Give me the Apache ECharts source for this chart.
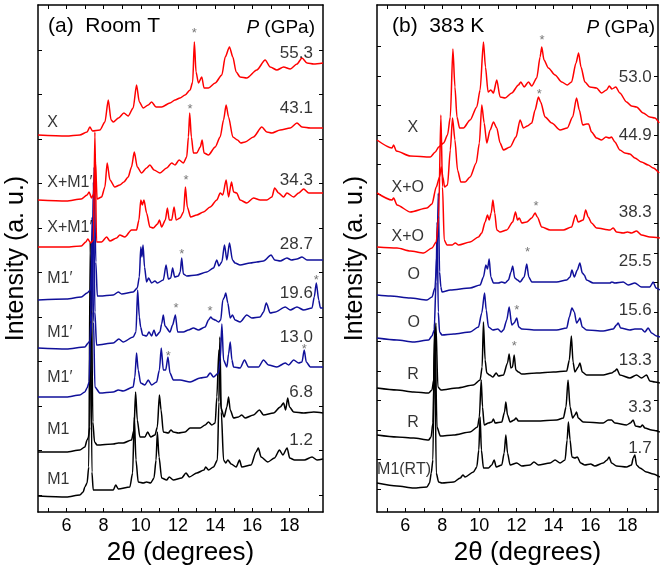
<!DOCTYPE html>
<html><head><meta charset="utf-8">
<script src="https://cdn.jsdelivr.net/npm/echarts@6/dist/echarts.min.js"></script>
<style>html,body{margin:0;padding:0;background:#fff}#c{width:660px;height:571px}</style>
</head><body><div id="c"></div>
<script>
// ---------- tick values ----------
const xTickValues = [5,6,7,8,9,10,11,12,13,14,15,16,17,18,19];
const xLabelValues = [6,8,10,12,14,16,18];
const leftYTicks = [17,61.5,106,150.5,195,239.5,284,328.5,373,417.5,462];
const rightYTicks = [23,52.5,82,111.5,141,170.5,200,229.5,259,288.5,318,347.5,377,406.5,436,465.5];

// ---------- (a) Room T : [2theta, intensity a.u.] ----------
const roomT_55_3 = [[4.47,377],[6.0,376],[6.72,377],[7.11,380],[7.26,385],[7.4,381],[7.8,382],[8.07,390],[8.25,412],[8.4,392],[8.52,390],[8.8,394],[9.09,399],[9.32,396],[9.59,404],[9.77,427],[9.92,410],[10.13,404],[10.4,407],[10.58,410],[10.82,405],[11.12,405],[11.57,409],[11.84,412],[12.11,414],[12.38,417],[12.65,422],[12.79,430],[12.88,470],[12.97,440],[13.1,429],[13.28,435],[13.4,424],[13.64,424],[14.0,429],[14.36,437],[14.54,455],[14.77,465],[14.95,455],[15.13,440],[15.34,435],[15.7,434],[16.24,442],[16.69,452],[16.96,445],[17.32,442],[17.68,445],[18.04,443],[18.4,448],[18.67,454],[18.94,449],[19.3,448],[19.8,449]];
const roomT_43_1 = [[4.47,312],[6.0,311],[6.8,313],[7.11,317],[7.22,320],[7.35,314],[7.47,318],[7.56,350],[7.65,313],[7.89,315],[8.07,325],[8.19,349],[8.34,332],[8.6,325],[8.87,327],[9.09,330],[9.32,335],[9.5,345],[9.65,360],[9.81,345],[10.04,339],[10.31,344],[10.49,347],[10.71,342],[11.03,339],[11.39,344],[11.66,349],[11.84,347],[12.06,352],[12.29,349],[12.47,355],[12.56,375],[12.63,399],[12.72,375],[12.83,359],[13.01,359],[13.2,365],[13.3,372],[13.4,359],[13.64,357],[14.0,365],[14.27,375],[14.45,392],[14.59,407],[14.72,395],[14.95,375],[15.2,372],[15.38,369],[15.61,370],[16.06,375],[16.51,385],[16.78,380],[17.05,379],[17.5,382],[18.04,384],[18.4,389],[18.67,385],[19.12,384],[19.8,384]];
const roomT_34_3 = [[4.47,265],[6.0,265],[6.8,266],[7.04,270],[7.15,273],[7.3,269],[7.45,272],[7.53,380],[7.62,270],[7.89,270],[8.16,275],[8.34,271],[8.7,274],[8.87,277],[9.14,275],[9.5,282],[9.77,282],[9.9,292],[10.0,312],[10.08,307],[10.17,312],[10.31,299],[10.49,285],[10.67,284],[10.9,288],[11.0,292],[11.12,285],[11.32,292],[11.43,304],[11.53,292],[11.66,292],[11.79,305],[11.9,292],[12.11,294],[12.3,300],[12.4,325],[12.5,305],[12.68,295],[13.01,297],[13.37,300],[13.73,305],[14.09,312],[14.27,319],[14.41,317],[14.59,332],[14.72,315],[14.88,330],[14.99,320],[15.16,319],[15.34,312],[15.7,309],[16.06,314],[16.42,312],[16.78,312],[17.05,315],[17.2,324],[17.41,319],[17.68,315],[17.86,319],[18.22,315],[18.49,319],[18.76,323],[19.03,319],[19.8,319]];
const roomT_28_7 = [[4.47,212],[6.0,213],[6.8,215],[7.11,219],[7.29,222],[7.4,250],[7.49,345],[7.58,250],[7.66,216],[7.8,216],[8.52,217],[8.79,220],[8.97,218],[9.59,220],[9.81,224],[9.92,235],[10.0,265],[10.06,255],[10.12,267],[10.2,245],[10.31,230],[10.42,234],[10.58,229],[10.76,231],[10.89,229],[11.21,232],[11.36,247],[11.48,233],[11.61,234],[11.71,244],[11.82,235],[12.02,236],[12.12,240],[12.2,254],[12.29,238],[12.47,236],[13.0,237],[13.55,240],[13.91,244],[14.09,252],[14.2,246],[14.36,250],[14.5,267],[14.63,252],[14.77,269],[14.93,252],[15.07,249],[15.34,247],[15.88,249],[16.24,250],[16.6,251],[17.01,257],[17.2,252],[17.5,251],[17.86,254],[18.1,252],[18.4,253],[18.67,255],[18.94,252],[19.3,252],[19.8,252]];
const roomT_19_6 = [[4.47,164],[6.0,163],[6.99,165],[7.17,169],[7.29,172],[7.38,200],[7.45,330],[7.53,200],[7.62,167],[8.52,169],[8.82,173],[9.05,170],[9.59,175],[9.74,180],[9.83,222],[9.92,195],[9.99,185],[10.1,177],[10.31,176],[10.44,180],[10.58,176],[10.71,182],[10.82,176],[11.03,180],[11.12,188],[11.21,197],[11.3,186],[11.57,180],[11.71,187],[11.86,197],[11.98,180],[12.29,180],[12.56,182],[12.83,184],[13.1,182],[13.46,185],[13.64,192],[13.76,195],[13.87,193],[14.0,192],[14.18,190],[14.3,192],[14.41,212],[14.48,214],[14.57,219],[14.68,209],[14.81,194],[14.93,197],[15.07,192],[15.34,190],[15.7,197],[15.97,194],[16.42,195],[16.6,200],[16.75,209],[16.96,199],[17.23,200],[17.77,205],[18.04,202],[18.4,205],[18.76,202],[19.21,204],[19.33,215],[19.44,229],[19.57,212],[19.66,204],[19.8,204]];
const roomT_13_0 = [[4.47,115],[6.0,115],[6.72,117],[6.99,120],[7.11,124],[7.22,130],[7.3,190],[7.38,295],[7.46,190],[7.53,125],[7.8,119],[8.52,120],[8.79,122],[9.05,121],[9.59,125],[9.68,135],[9.77,159],[9.86,142],[9.99,129],[10.22,127],[10.4,132],[10.58,127],[10.85,130],[11.0,142],[11.1,164],[11.21,142],[11.34,142],[11.46,155],[11.57,139],[11.75,132],[12.11,132],[12.65,130],[13.19,134],[13.55,135],[13.73,139],[13.91,135],[14.18,139],[14.27,152],[14.36,188],[14.45,152],[14.63,145],[14.72,158],[14.81,170],[14.9,152],[14.99,145],[15.34,144],[15.58,152],[15.79,145],[16.33,145],[16.6,152],[16.87,147],[17.32,145],[17.77,149],[17.95,147],[18.22,152],[18.49,149],[18.67,150],[18.79,162],[18.9,150],[19.12,145],[19.8,145]];
const roomT_6_8 = [[4.47,60],[6.0,60],[6.72,62],[6.99,65],[7.11,72],[7.17,74],[7.26,85],[7.33,250],[7.42,90],[7.51,70],[7.65,67],[8.52,68],[8.79,69],[9.05,69],[9.5,72],[9.63,82],[9.72,120],[9.81,92],[9.95,75],[10.22,75],[10.37,80],[10.53,75],[10.76,77],[10.89,85],[11.0,117],[11.09,102],[11.21,80],[11.48,79],[11.62,82],[11.75,80],[12.02,79],[12.38,80],[12.65,84],[13.19,84],[13.46,87],[13.64,90],[13.82,87],[14.0,89],[14.09,115],[14.2,162],[14.3,105],[14.48,95],[14.63,105],[14.72,115],[14.81,102],[14.99,94],[15.25,95],[15.43,97],[15.61,94],[16.06,97],[16.38,102],[16.6,97],[17.14,99],[17.5,105],[17.68,109],[17.79,102],[17.9,114],[18.0,105],[18.22,100],[18.76,99],[19.3,100],[19.8,99]];
const roomT_1_2 = [[4.47,16],[6.0,15],[6.72,17],[6.9,20],[6.99,25],[7.11,29],[7.2,45],[7.28,270],[7.37,40],[7.44,22],[7.62,22],[8.52,22],[8.65,27],[8.79,23],[9.41,25],[9.56,39],[9.65,95],[9.74,52],[9.86,30],[10.13,29],[10.31,30],[10.53,29],[10.71,34],[10.82,52],[10.89,80],[10.98,55],[11.12,34],[11.39,32],[11.53,35],[11.75,32],[12.2,34],[12.43,39],[12.61,35],[13.01,39],[13.4,42],[13.49,45],[13.64,42],[13.91,45],[14.12,52],[14.2,110],[14.25,175],[14.33,100],[14.45,52],[14.57,49],[14.68,52],[14.86,48],[15.13,45],[15.31,52],[15.43,45],[15.93,47],[16.2,60],[16.32,64],[16.47,55],[16.83,50],[17.19,54],[17.46,62],[17.64,57],[17.87,64],[18.01,54],[18.27,52],[18.8,52],[19.21,55],[19.48,52],[19.8,53]];

// ---------- (b) 383 K ----------
const k383_53_0 = [[4.47,372],[5.28,364],[5.37,367],[5.51,361],[6.27,356],[7.35,355],[7.62,360],[7.8,365],[8.07,369],[8.28,377],[8.43,395],[8.57,463],[8.68,425],[8.79,395],[8.93,384],[9.14,384],[9.5,392],[9.86,405],[10.04,422],[10.22,470],[10.33,445],[10.47,420],[10.62,422],[10.76,419],[10.94,432],[11.12,415],[11.39,414],[11.75,419],[12.11,427],[12.24,430],[12.42,425],[12.65,430],[12.83,426],[13.1,434],[13.28,455],[13.37,465],[13.49,452],[13.73,444],[14.09,437],[14.45,430],[14.75,427],[14.98,430],[15.22,449],[15.36,459],[15.49,445],[15.7,430],[15.97,425],[16.33,424],[16.6,419],[16.87,422],[17.02,426],[17.16,423],[17.37,425],[17.59,419],[17.95,410],[18.22,406],[18.49,405],[18.85,399],[19.21,395],[19.48,394],[19.71,389]];
const k383_44_9 = [[4.47,319],[5.28,312],[5.37,314],[5.55,307],[6.27,300],[7.17,304],[7.44,308],[7.67,325],[7.85,335],[7.94,345],[8.03,335],[8.12,325],[8.28,327],[8.43,362],[8.55,394],[8.68,372],[8.82,342],[9.0,330],[9.23,330],[9.5,335],[9.83,349],[10.0,369],[10.13,407],[10.26,389],[10.4,369],[10.58,382],[10.76,390],[10.94,384],[11.12,369],[11.3,362],[11.66,365],[11.98,375],[12.2,392],[12.38,384],[12.59,386],[12.83,389],[13.01,402],[13.19,415],[13.31,410],[13.55,395],[13.91,389],[14.36,382],[14.75,384],[15.04,395],[15.25,414],[15.4,402],[15.58,387],[15.79,388],[15.9,388],[16.06,380],[16.33,374],[16.6,372],[16.84,375],[17.02,374],[17.14,375],[17.32,370],[17.59,362],[17.86,359],[18.13,358],[18.4,354],[18.76,350],[19.12,347],[19.39,344],[19.71,339]];
const k383_38_3 = [[4.47,265],[5.55,264],[6.27,261],[6.99,259],[7.44,264],[7.67,270],[7.8,295],[7.92,397],[8.01,325],[8.1,272],[8.25,267],[8.52,267],[8.7,269],[8.88,267],[9.5,270],[9.95,275],[10.13,279],[10.31,290],[10.44,297],[10.53,292],[10.64,299],[10.73,312],[10.83,299],[10.94,282],[11.12,280],[11.48,282],[11.8,290],[11.95,300],[12.06,292],[12.16,294],[12.29,289],[12.56,290],[12.83,294],[13.01,299],[13.13,295],[13.37,285],[13.82,282],[14.54,282],[14.98,285],[15.2,297],[15.34,290],[15.61,292],[15.74,302],[15.88,295],[16.06,289],[16.33,284],[17.05,282],[17.23,284],[17.41,280],[17.77,279],[18.0,280],[18.22,279],[18.49,281],[18.76,277],[19.21,275],[19.75,274]];
const k383_25_5 = [[4.47,217],[5.19,216],[6.27,214],[7.17,212],[7.44,215],[7.6,224],[7.72,260],[7.78,319],[7.85,240],[7.92,225],[7.98,220],[8.43,222],[9.5,224],[10.04,227],[10.22,235],[10.35,247],[10.44,243],[10.53,253],[10.62,235],[10.76,229],[11.03,229],[11.21,230],[11.39,229],[11.57,232],[11.71,240],[11.8,246],[11.91,234],[12.06,232],[12.2,230],[12.42,235],[12.56,248],[12.67,235],[12.83,230],[13.46,230],[14.18,230],[14.72,232],[14.9,235],[15.0,242],[15.13,235],[15.29,242],[15.43,249],[15.56,239],[15.67,237],[15.79,232],[16.15,229],[16.69,229],[17.05,229],[17.16,230],[17.32,229],[17.77,230],[18.04,227],[18.4,229],[18.76,225],[19.21,225],[19.39,230],[19.54,224],[19.75,222]];
const k383_15_6 = [[4.47,174],[5.55,172],[6.45,170],[7.26,172],[7.44,176],[7.56,182],[7.66,230],[7.72,290],[7.78,200],[7.85,180],[7.98,177],[8.61,178],[9.5,180],[9.95,185],[10.13,199],[10.28,219],[10.37,202],[10.49,185],[10.73,182],[11.0,183],[11.18,180],[11.3,182],[11.48,192],[11.61,205],[11.75,187],[11.88,189],[12.02,194],[12.13,185],[12.29,183],[13.1,182],[14.18,182],[14.72,184],[14.86,195],[15.0,204],[15.13,200],[15.25,189],[15.34,191],[15.43,194],[15.56,185],[15.79,182],[16.69,181],[17.23,183],[17.41,187],[17.5,189],[17.63,184],[18.13,182],[18.4,183],[18.76,183],[18.94,180],[19.12,184],[19.3,179],[19.57,176],[19.75,175]];
const k383_13_3 = [[4.47,124],[5.55,122],[6.45,120],[7.26,119],[7.44,122],[7.53,132],[7.65,189],[7.76,125],[7.92,122],[8.79,124],[9.68,127],[10.04,132],[10.15,145],[10.22,190],[10.31,152],[10.4,139],[10.55,137],[10.73,135],[10.91,139],[11.03,136],[11.3,137],[11.52,149],[11.61,158],[11.7,144],[11.79,145],[11.88,157],[11.97,142],[12.11,140],[12.29,138],[13.1,139],[14.0,140],[14.72,141],[14.86,152],[14.97,176],[15.06,150],[15.16,140],[15.34,145],[15.43,149],[15.56,140],[15.79,137],[16.69,137],[17.14,139],[17.32,141],[17.43,143],[17.59,137],[18.13,134],[18.49,137],[18.76,134],[19.03,137],[19.21,131],[19.48,130],[19.75,129]];
const k383_3_3 = [[4.47,77],[5.55,75],[6.45,74],[7.26,72],[7.39,75],[7.49,89],[7.6,185],[7.71,85],[7.89,76],[8.61,77],[9.5,80],[9.9,85],[10.0,95],[10.1,132],[10.17,105],[10.26,87],[10.49,89],[10.67,90],[10.76,93],[10.85,89],[11.21,90],[11.36,100],[11.43,110],[11.52,97],[11.66,90],[11.88,92],[11.98,94],[12.11,91],[13.1,91],[14.18,92],[14.54,94],[14.68,105],[14.79,132],[14.9,105],[15.04,94],[15.16,97],[15.25,100],[15.34,94],[15.61,90],[16.69,89],[16.96,92],[17.14,92],[17.32,89],[17.95,87],[18.16,89],[18.31,92],[18.43,86],[18.7,85],[18.81,87],[18.94,84],[19.3,82],[19.75,80]];
const k383_1_7 = [[4.47,29],[5.55,26],[6.45,24],[7.17,25],[7.31,29],[7.4,39],[7.49,52],[7.58,188],[7.67,39],[7.8,30],[7.98,29],[8.61,30],[8.97,34],[9.11,37],[9.23,35],[9.68,40],[9.86,45],[9.97,62],[10.04,95],[10.11,62],[10.22,44],[10.49,44],[10.67,47],[10.8,52],[10.91,45],[11.21,47],[11.34,59],[11.43,77],[11.52,59],[11.66,47],[12.02,49],[12.29,46],[12.74,47],[12.95,50],[13.19,47],[13.82,49],[14.09,52],[14.36,49],[14.63,52],[14.74,72],[14.81,90],[14.9,72],[15.0,55],[15.16,54],[15.29,55],[15.47,49],[15.7,47],[16.01,48],[16.24,46],[16.69,49],[16.9,52],[17.01,55],[17.14,49],[17.41,46],[17.95,45],[18.22,47],[18.31,54],[18.4,57],[18.49,47],[18.67,44],[19.03,40],[19.39,38],[19.75,35]];

// ---------- annotation texts ----------
const leftPressures = ['55.3','43.1','34.3','28.7','19.6','13.0','6.8','1.2'];
const leftPhases = ['X','X+M1′','X+M1′','M1′','M1′','M1′','M1','M1'];
const rightPressures = ['53.0','44.9','38.3','25.5','15.6','13.3','3.3','1.7'];
const rightPhases = ['X','X+O','X+O','O','O','R','R','M1(RT)'];

// ---------- annotation placement (data coords) ----------
const leftPressureY = [459,404,332,268,219,175,120,72];
const leftPhaseY = [389,329,284,233,179,134,82,32];
const rightPressureY = [435,377,300,251,202,152,105,64];
const rightPhaseY = [384,324,275,237,189,137,89,42];
const rightPhaseX = [6.4,6.13,6.13,6.45,6.45,6.41,6.41,5.93];
const leftStars = [[12.88,479],[12.65,403],[12.43,332],[12.2,258],[11.89,204],[13.73,201],[19.44,232],[11.48,156],[18.79,163]];
const rightStars = [[13.39,472],[13.24,418],[13.06,306],[12.6,260],[12.02,202],[11.88,166]];

const FONT = '"Liberation Sans", Arial, sans-serif';
const RED = '#ff0000', BLUE = '#10109a', BLACK = '#000000';

function lineSeries(data, color, gi) {
  return { type: 'line', xAxisIndex: gi*2, yAxisIndex: gi*2, data: data, showSymbol: false, symbol: 'none',
    smooth: 0.25, smoothMonotone: 'x',
    lineStyle: { color: color, width: 1.5 }, itemStyle: { color: color }, silent: true, animation: false, z: 3 };
}
function textSeries(points, opts, gi) {
  return { type: 'scatter', xAxisIndex: gi*2, yAxisIndex: gi*2, data: points, symbolSize: 1,
    itemStyle: { color: 'rgba(0,0,0,0)' }, silent: true, animation: false, z: 5,
    label: Object.assign({ show: true, formatter: p => p.data[2], color: '#000', fontWeight: 'normal', fontFamily: FONT }, opts) };
}

const leftPressPts = leftPressures.map((t,i)=>[19.28, leftPressureY[i], t]);
const leftPhasePts = leftPhases.map((t,i)=>[4.94, leftPhaseY[i], t]);
const rightPressPts = rightPressures.map((t,i)=>[19.34, rightPressureY[i], t]);
const rightPhasePts = rightPhases.map((t,i)=>[rightPhaseX[i], rightPhaseY[i], t]);
const leftStarPts = leftStars.map(p=>[p[0],p[1],'*']);
const rightStarPts = rightStars.map(p=>[p[0],p[1],'*']);

function xAxes(gi, max, nameShift) {
  const common = { type: 'value', gridIndex: gi, min: 4.47, max: max, splitLine: { show: false },
    axisLine: { show: true, onZero: false, lineStyle: { color: '#000', width: 1.5 } } };
  return [
    Object.assign({}, common, { position: 'bottom',
      axisTick: { show: true, inside: true, length: 4, customValues: xTickValues, lineStyle: { color: '#000', width: 1 } },
      axisLabel: { show: true, customValues: xLabelValues, fontSize: 18, color: '#000', fontFamily: FONT, margin: 5 },
      name: '2θ (degrees)', nameLocation: 'middle', nameGap: 27,
      nameTextStyle: { fontSize: 26, color: '#000', fontFamily: FONT, padding: [0,0,0,nameShift] } }),
    Object.assign({}, common, { position: 'top',
      axisTick: { show: true, inside: true, length: 4, customValues: xTickValues, lineStyle: { color: '#000', width: 1 } },
      axisLabel: { show: false } })
  ];
}
function yAxes(gi, ticks) {
  const common = { type: 'value', gridIndex: gi, min: 0, max: 507, splitLine: { show: false },
    axisLine: { show: true, onZero: false, lineStyle: { color: '#000', width: 1.5 } },
    axisTick: { show: true, inside: true, length: 4, customValues: ticks, lineStyle: { color: '#000', width: 1 } },
    axisLabel: { show: false } };
  return [
    Object.assign({}, common, { position: 'left', name: 'Intensity (a. u.)', nameLocation: 'middle', nameGap: 9,
      nameTextStyle: { fontSize: 25, color: '#000', fontFamily: FONT } }),
    Object.assign({}, common, { position: 'right' })
  ];
}

const titleRich = {
  i: { fontStyle: 'italic', fontWeight: 'normal', fontSize: 19, fontFamily: FONT, color: '#000' },
  n: { fontWeight: 'normal', fontSize: 19, fontFamily: FONT, color: '#000' }
};

const option = {
  backgroundColor: '#fff',
  animation: false,
  title: [
    { text: '(a)  Room T', left: 48, top: 16, padding: 0, textStyle: { fontSize: 21, fontWeight: 'normal', color: '#000', fontFamily: FONT } },
    { text: '{i|P} {n|(GPa)}', right: 345, top: 18, padding: 0, textStyle: { fontWeight: 'normal', fontSize: 19, rich: titleRich } },
    { text: '(b)  383 K', left: 392, top: 16, padding: 0, textStyle: { fontSize: 21, fontWeight: 'normal', color: '#000', fontFamily: FONT } },
    { text: '{i|P} {n|(GPa)}', right: 5, top: 18, padding: 0, textStyle: { fontWeight: 'normal', fontSize: 19, rich: titleRich } }
  ],
  grid: [
    { left: 38, right: 337, top: 5, bottom: 59, containLabel: false },
    { left: 377, right: 2, top: 5, bottom: 59, containLabel: false }
  ],
  xAxis: [].concat(xAxes(0, 19.8, 0), xAxes(1, 19.65, 20)),
  yAxis: [].concat(yAxes(0, leftYTicks), yAxes(1, rightYTicks)),
  series: [
    lineSeries(roomT_1_2, BLACK, 0), lineSeries(roomT_6_8, BLACK, 0),
    lineSeries(roomT_13_0, BLUE, 0), lineSeries(roomT_19_6, BLUE, 0), lineSeries(roomT_28_7, BLUE, 0),
    lineSeries(roomT_34_3, RED, 0), lineSeries(roomT_43_1, RED, 0), lineSeries(roomT_55_3, RED, 0),
    lineSeries(k383_1_7, BLACK, 1), lineSeries(k383_3_3, BLACK, 1), lineSeries(k383_13_3, BLACK, 1),
    lineSeries(k383_15_6, BLUE, 1), lineSeries(k383_25_5, BLUE, 1),
    lineSeries(k383_38_3, RED, 1), lineSeries(k383_44_9, RED, 1), lineSeries(k383_53_0, RED, 1),
    textSeries(leftPressPts, { position: 'left', distance: 0, fontSize: 17 }, 0),
    textSeries(leftPhasePts, { position: 'right', distance: 0, fontSize: 16 }, 0),
    textSeries(leftStarPts, { position: 'inside', fontSize: 13, color: '#555' }, 0),
    textSeries(rightPressPts, { position: 'left', distance: 0, fontSize: 17 }, 1),
    textSeries(rightPhasePts, { position: 'inside', fontSize: 16 }, 1),
    textSeries(rightStarPts, { position: 'inside', fontSize: 13, color: '#555' }, 1)
  ]
};
const chart = echarts.init(document.getElementById('c'), null, { renderer: 'canvas' });
chart.setOption(option);
</script>
</body></html>
